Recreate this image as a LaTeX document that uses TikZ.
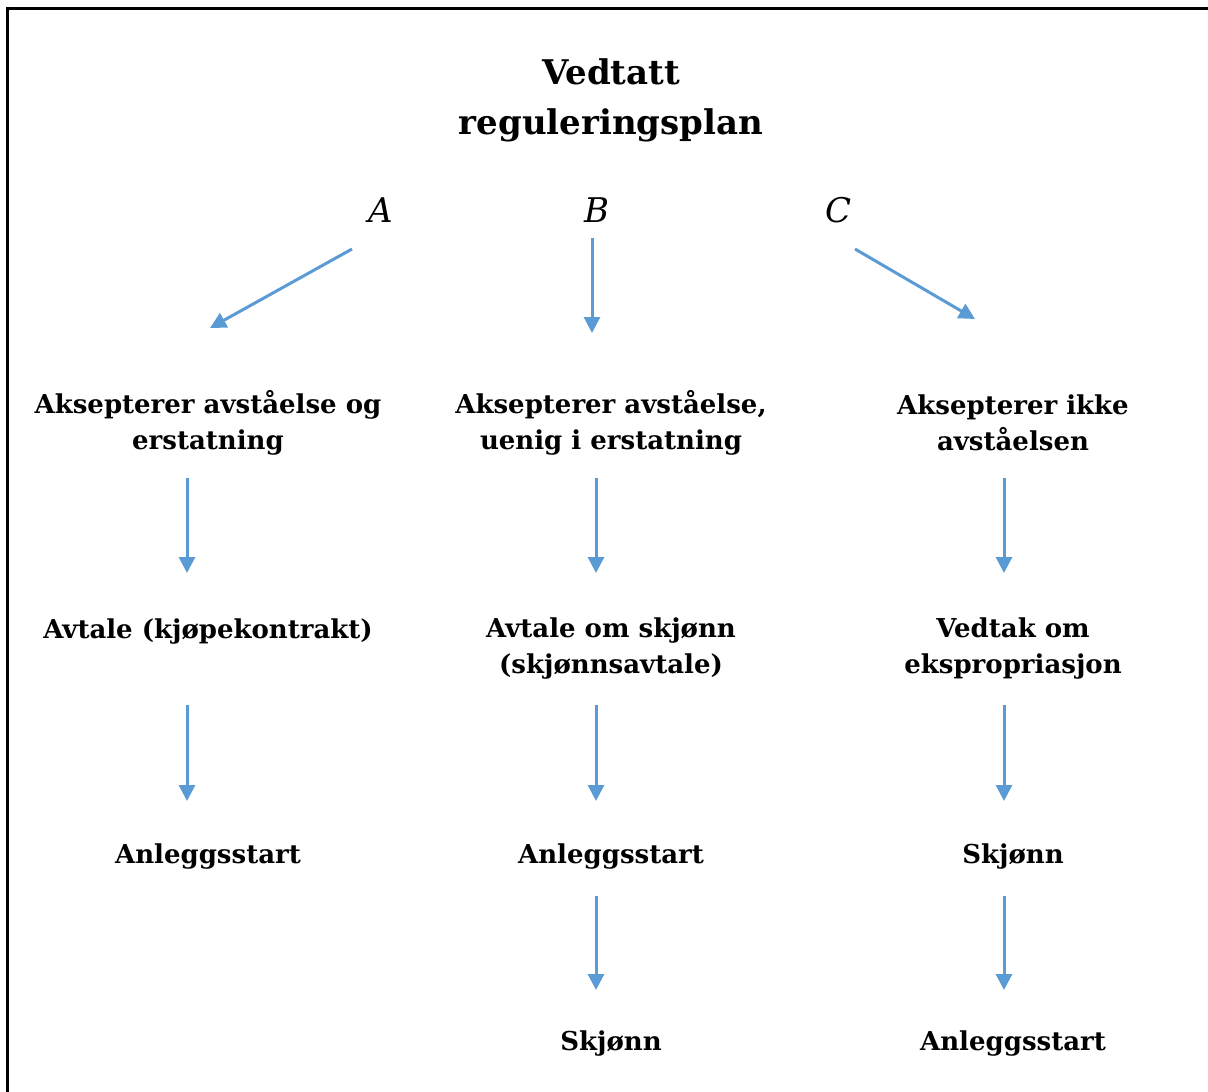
\documentclass[tikz,border=0pt]{standalone}
\usepackage{fontspec}
\setmainfont{DejaVu Serif}
\usetikzlibrary{arrows.meta}
\definecolor{arrowblue}{HTML}{5B9BD5}
\begin{document}
\begin{tikzpicture}[x=0.5pt,y=-0.5pt,
  lbl/.style={font=\bfseries\fontsize{13}{18}\selectfont, align=center, inner sep=0pt},
  ttl/.style={font=\bfseries\fontsize{17}{25}\selectfont, align=center, inner sep=0pt},
  letter/.style={font=\itshape\fontsize{17}{20}\selectfont, inner sep=0pt},
  arr/.style={draw=arrowblue, line width=1.5pt, -{Triangle[width=8pt,length=8pt]}, fill=arrowblue}]
\useasboundingbox (0,0) rectangle (1208,1091);
\draw[line width=1.5pt] (7,1095) -- (7,9) -- (1212,9);
\node[ttl] (title) at (611,100) {Vedtatt\\reguleringsplan};
\node[letter] (A) at (381,210) {$\mathit{A}$};
\node[letter] (B) at (597,210) {$\mathit{B}$};
\node[letter] (C) at (838,210) {$\mathit{C}$};
\coordinate (a0) at (352,249); \coordinate (a1) at (210,328);
\coordinate (b0) at (592,238); \coordinate (b1) at (592,333);
\coordinate (c0) at (855,249); \coordinate (c1) at (975,319);
\draw[arr] (a0) -- (a1);
\draw[arr] (b0) -- (b1);
\draw[arr] (c0) -- (c1);
\node[lbl] (r1a) at (208,423) {Aksepterer avståelse og\\erstatning};
\node[lbl] (r1b) at (611,423) {Aksepterer avståelse,\\uenig i erstatning};
\node[lbl] (r1c) at (1013,423) {Aksepterer ikke\\avståelsen};
\node[lbl] (r2a) at (208,632) {Avtale (kjøpekontrakt)};
\node[lbl] (r2b) at (611,649) {Avtale om skjønn\\(skjønnsavtale)};
\node[lbl] (r2c) at (1013,649) {Vedtak om\\ekspropriasjon};
\node[lbl] (r3a) at (208,856) {Anleggsstart};
\node[lbl] (r3b) at (611,856) {Anleggsstart};
\node[lbl] (r3c) at (1013,856) {Skjønn};
\node[lbl] (r4b) at (611,1043) {Skjønn};
\node[lbl] (r4c) at (1013,1043) {Anleggsstart};
\foreach \x/\n in {187/a,596/b,1004/c}{
  \coordinate (s1\n) at (\x,478); \coordinate (e1\n) at (\x,573);
  \coordinate (s2\n) at (\x,705); \coordinate (e2\n) at (\x,801);
  \draw[arr] (s1\n) -- (e1\n);
  \draw[arr] (s2\n) -- (e2\n);
}
\foreach \x/\n in {596/b,1004/c}{
  \coordinate (s3\n) at (\x,896); \coordinate (e3\n) at (\x,990);
  \draw[arr] (s3\n) -- (e3\n);
}
\end{tikzpicture}
\end{document}
